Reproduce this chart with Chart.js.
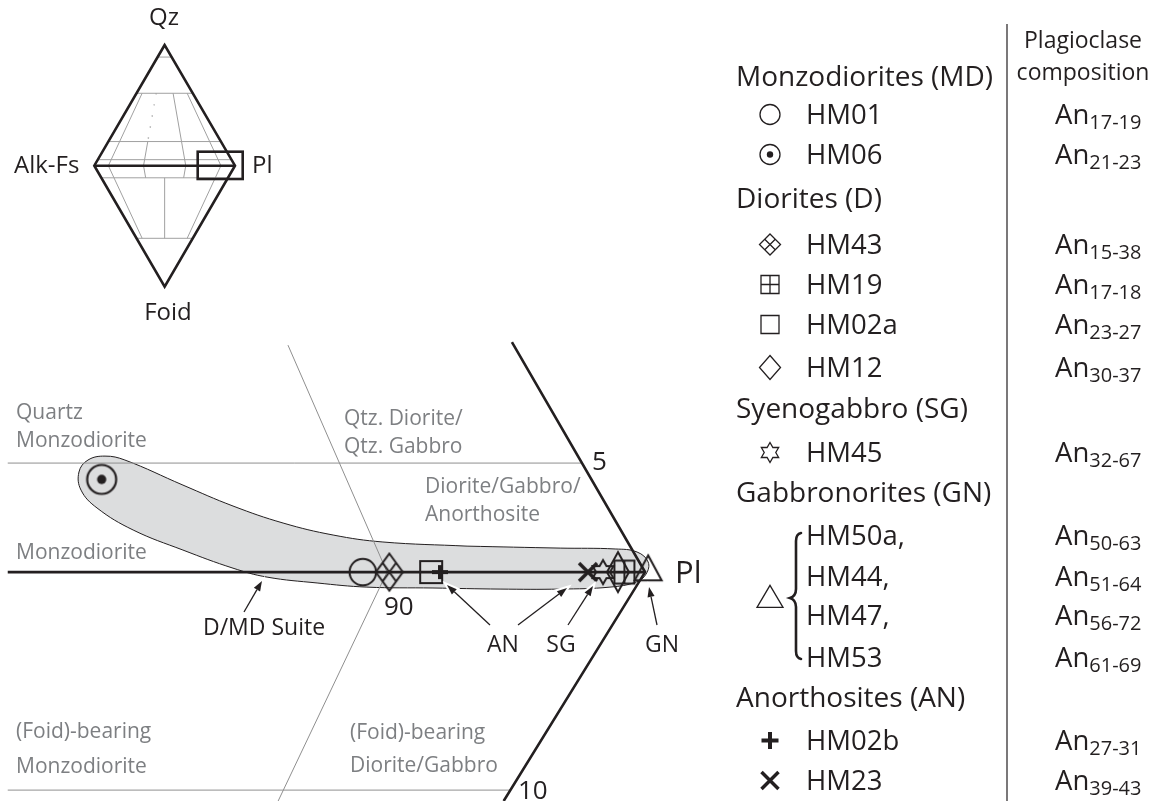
<!DOCTYPE html>
<html>
<head>
<meta charset="utf-8">
<script src="https://cdn.jsdelivr.net/npm/chart.js@4.4.1/dist/chart.umd.min.js"></script>
<style>
  html, body { margin: 0; padding: 0; background: #fff; }
  #wrap { width: 1165px; height: 801px; }
</style>
</head>
<body>
<div id="wrap"><canvas id="qapf" width="1165" height="801"></canvas></div>
<script>
// ---- plotted samples: position along the Alk-Fs – Pl join (P) and Q (+) / Foid (−) content in % ----
const markerIds = ['HM06', 'HM01', 'HM43', 'HM02a', 'HM02b', 'HM23', 'HM45', 'HM12', 'HM19', 'GN'];
const markerP   = [78.94, 89.06, 90.09, 91.71, 92.05, 97.79, 98.37, 98.95, 99.2, 100.12];
const markerQ   = [4.25, 0, 0, 0, 0, 0, 0, 0, 0, 0];

// ---- D/MD suite field outline (closed) ----
const envelopeX = [93.10, 96.71, 98.84, 99.69, 100.12, 100.04, 99.65, 98.64, 96.71, 94.38, 91.78, 89.22, 87.29,
                   85.35, 84.03, 82.09, 80.16, 78.76, 78.14, 78.06, 78.41, 79.07, 79.84, 82.09, 84.03, 85.97,
                   87.91, 89.84, 93.10];
const envelopeY = [1.19, 1.10, 1.06, 0.92, 0.46, -0.09, -0.46, -0.69, -0.78, -0.78, -0.73, -0.69, -0.50,
                   -0.23, 0.18, 1.01, 1.93, 2.94, 3.76, 4.59, 5.14, 5.32, 5.14, 3.99, 3.03, 2.25,
                   1.70, 1.38, 1.19];

// ---- field boundaries of the enlarged Pl corner ----
const q5LineX  = [75.3, 97.55];   const q5LineY  = [5, 5];
const f10LineX = [75.3, 94.78];   const f10LineY = [-10, -10];
const p90LineX = [86.16, 90, 85.78]; const p90LineY = [10.41, 0, -10.5];
const joinX    = [75.3, 100];     const joinY    = [0, 0];
const edgeX    = [94.84, 100, 94.52]; const edgeY = [10.55, 0, -10.5];

// ---- legend table ----
const groupNames  = ['Monzodiorites (MD)', 'Diorites (D)', 'Syenogabbro (SG)', 'Gabbronorites (GN)', 'Anorthosites (AN)'];
const sampleNames = ['HM01', 'HM06', 'HM43', 'HM19', 'HM02a', 'HM12', 'HM45', 'HM50a,', 'HM44,', 'HM47,', 'HM53', 'HM02b', 'HM23'];
const sampleGroup = [0, 0, 1, 1, 1, 1, 2, 3, 3, 3, 3, 4, 4];
const anFrom      = [17, 21, 15, 17, 23, 30, 32, 50, 51, 56, 61, 27, 39];
const anTo        = [19, 23, 38, 18, 27, 37, 67, 63, 64, 72, 69, 31, 43];

// ---- QAPF overview: field boundaries as [q1, r1, q2, r2] (q: Q>0 / F<0 fraction, r: P/(A+P)) ----
const insetLines = [
  [0.9, 0, 0.9, 1], [0.6, 0, 0.6, 1], [0.2, 0, 0.2, 1], [0.05, 0, 0.05, 1],
  [-0.1, 0, -0.1, 1], [-0.6, 0, -0.6, 1],
  [0.6, 0.1, 0, 0.1], [0, 0.1, -0.1, 0.1], [-0.1, 0.1, -0.6, 0.1],
  [0.2, 0.35, 0, 0.35], [0, 0.35, -0.1, 0.35],
  [0.6, 0.65, 0, 0.65], [0, 0.65, -0.1, 0.65],
  [0.6, 0.9, 0, 0.9], [0, 0.9, -0.1, 0.9], [-0.1, 0.9, -0.6, 0.9],
  [-0.1, 0.5, -0.6, 0.5]
];
const insetDotted = [[0.6, 0.35, 0.2, 0.35]];

// ---------------------------------------------------------------------------
const INK = '#231f20';
const GREY_TXT = '#7d7f82';
const GREY_LINE = '#8f8f8f';
const FONT = "'Open Sans', 'Noto Sans', sans-serif";

const markerShapes = {
  HM01: 'circle', HM06: 'circleDot', HM43: 'diamondCross', HM19: 'squareCross', HM02a: 'square',
  HM12: 'diamond', HM45: 'star', GN: 'triangle', HM02b: 'plus', HM23: 'cross'
};
// symbol sizes [w, h, lineWidth] on the plot and in the legend
const plotSizes = {
  circle: [26.5, 26.5, 2], circleDot: [29, 29, 2.2], diamondCross: [27, 37, 2], square: [22, 22, 2],
  plus: [16, 14, 4], cross: [18, 18, 3.5], star: [21, 24, 2], diamond: [22, 40, 2],
  squareCross: [20, 23, 2], triangle: [27, 25, 2]
};
const legendSizes = {
  circle: [20, 20, 1.3], circleDot: [20, 20, 1.3], diamondCross: [21, 21, 1.3], square: [18, 18, 1.3],
  plus: [17, 17, 4], cross: [17, 17, 3.5], star: [18, 20, 1.3], diamond: [21, 24, 1.3],
  squareCross: [18, 18, 1.3], triangle: [26, 22, 1.3]
};

function drawShape(ctx, kind, cx, cy, w, h, lw) {
  ctx.save();
  ctx.strokeStyle = INK; ctx.fillStyle = INK; ctx.lineWidth = lw;
  ctx.lineJoin = 'miter'; ctx.lineCap = 'butt';
  ctx.beginPath();
  if (kind === 'circle' || kind === 'circleDot') {
    ctx.arc(cx, cy, w / 2, 0, Math.PI * 2);
    ctx.stroke();
    if (kind === 'circleDot') {
      ctx.beginPath(); ctx.arc(cx, cy, w * 0.16, 0, Math.PI * 2); ctx.fill();
    }
  } else if (kind === 'diamond' || kind === 'diamondCross') {
    ctx.moveTo(cx, cy - h / 2); ctx.lineTo(cx + w / 2, cy); ctx.lineTo(cx, cy + h / 2); ctx.lineTo(cx - w / 2, cy);
    ctx.closePath(); ctx.stroke();
    if (kind === 'diamondCross') {
      ctx.beginPath();
      ctx.moveTo(cx - w / 4, cy - h / 4); ctx.lineTo(cx + w / 4, cy + h / 4);
      ctx.moveTo(cx + w / 4, cy - h / 4); ctx.lineTo(cx - w / 4, cy + h / 4);
      ctx.stroke();
    }
  } else if (kind === 'square' || kind === 'squareCross') {
    ctx.rect(cx - w / 2, cy - h / 2, w, h); ctx.stroke();
    if (kind === 'squareCross') {
      ctx.beginPath();
      ctx.moveTo(cx, cy - h / 2); ctx.lineTo(cx, cy + h / 2);
      ctx.moveTo(cx - w / 2, cy); ctx.lineTo(cx + w / 2, cy);
      ctx.stroke();
    }
  } else if (kind === 'star') {
    const R = h / 2, r = R / Math.sqrt(3);
    for (let i = 0; i < 12; i++) {
      const a = -Math.PI / 2 + i * Math.PI / 6;
      const rr = i % 2 === 0 ? R : r;
      const px = cx + rr * Math.cos(a), py = cy + rr * Math.sin(a);
      if (i === 0) ctx.moveTo(px, py); else ctx.lineTo(px, py);
    }
    ctx.closePath(); ctx.stroke();
  } else if (kind === 'triangle') {
    // anchored at the centroid
    ctx.moveTo(cx, cy - 2 * h / 3); ctx.lineTo(cx + w / 2, cy + h / 3); ctx.lineTo(cx - w / 2, cy + h / 3);
    ctx.closePath(); ctx.stroke();
  } else if (kind === 'plus') {
    ctx.moveTo(cx - w / 2, cy); ctx.lineTo(cx + w / 2, cy);
    ctx.moveTo(cx, cy - h / 2); ctx.lineTo(cx, cy + h / 2);
    ctx.stroke();
  } else if (kind === 'cross') {
    ctx.moveTo(cx - w / 2, cy - h / 2); ctx.lineTo(cx + w / 2, cy + h / 2);
    ctx.moveTo(cx + w / 2, cy - h / 2); ctx.lineTo(cx - w / 2, cy + h / 2);
    ctx.stroke();
  }
  ctx.restore();
}

function makeSymbol(kind) {
  const [w, h, lw] = plotSizes[kind];
  const even = v => 2 * Math.ceil(v / 2);
  const W = even(w + 2 * lw + 6);
  const H = even((kind === 'triangle' ? 4 * h / 3 : h) + 2 * lw + 6);
  const cv = document.createElement('canvas');
  cv.width = W; cv.height = H;
  drawShape(cv.getContext('2d'), kind, W / 2, H / 2, w, h, lw);
  return cv;
}

function text(ctx, s, x, y, size, color, align) {
  ctx.font = size + 'px ' + FONT;
  ctx.fillStyle = color;
  ctx.textAlign = align || 'left';
  ctx.textBaseline = 'alphabetic';
  ctx.fillText(s, x, y);
}

function arrow(ctx, x1, y1, x2, y2) {
  const a = Math.atan2(y2 - y1, x2 - x1), L = 10, HW = 3.6;
  const bx = x2 - L * Math.cos(a), by = y2 - L * Math.sin(a);
  const head = () => {
    ctx.beginPath();
    ctx.moveTo(x2, y2);
    ctx.lineTo(bx + HW * Math.sin(a), by - HW * Math.cos(a));
    ctx.lineTo(bx - HW * Math.sin(a), by + HW * Math.cos(a));
    ctx.closePath();
  };
  // white halo near the tip
  ctx.save();
  ctx.strokeStyle = '#fff'; ctx.lineWidth = 5; ctx.lineCap = 'round';
  ctx.beginPath(); ctx.moveTo(x2 - 22 * Math.cos(a), y2 - 22 * Math.sin(a)); ctx.lineTo(bx, by); ctx.stroke();
  head(); ctx.lineWidth = 4; ctx.stroke();
  ctx.strokeStyle = INK; ctx.fillStyle = INK; ctx.lineWidth = 1.3; ctx.lineCap = 'butt';
  ctx.beginPath(); ctx.moveTo(x1, y1); ctx.lineTo(bx, by); ctx.stroke();
  head(); ctx.fill();
  ctx.restore();
}

// QAPF overview geometry
const IN = { ax: 94.3, px: 235, cy: 165.7, hUp: 120.7, hDn: 121 };
function tern(q, r) {
  const a = Math.abs(q), hw = (IN.px - IN.ax) / 2;
  return [IN.ax + a * hw + r * (1 - a) * 2 * hw, q >= 0 ? IN.cy - a * IN.hUp : IN.cy + a * IN.hDn];
}

const overlay = {
  id: 'overlay',
  afterDatasetsDraw(chart) {
    const ctx = chart.ctx;
    ctx.save();

    // --- overview diamond ---
    ctx.strokeStyle = '#a0a0a0'; ctx.lineWidth = 1;
    insetLines.forEach(([q1, r1, q2, r2]) => {
      const p = tern(q1, r1), s = tern(q2, r2);
      ctx.beginPath(); ctx.moveTo(p[0], p[1]); ctx.lineTo(s[0], s[1]); ctx.stroke();
    });
    ctx.save();
    ctx.setLineDash([1.2, 10]); ctx.lineWidth = 1.4;
    insetDotted.forEach(([q1, r1, q2, r2]) => {
      const p = tern(q1, r1), s = tern(q2, r2);
      ctx.beginPath(); ctx.moveTo(p[0], p[1]); ctx.lineTo(s[0], s[1]); ctx.stroke();
    });
    ctx.restore();
    const Q = tern(1, 0.5), A = tern(0, 0), P = tern(0, 1), F = tern(-1, 0.5);
    ctx.strokeStyle = INK; ctx.lineWidth = 2.6; ctx.lineJoin = 'miter';
    ctx.beginPath(); ctx.moveTo(Q[0], Q[1]); ctx.lineTo(A[0], A[1]); ctx.lineTo(F[0], F[1]); ctx.lineTo(P[0], P[1]);
    ctx.closePath(); ctx.stroke();
    ctx.beginPath(); ctx.moveTo(A[0], A[1]); ctx.lineTo(P[0], P[1]); ctx.stroke();
    ctx.strokeRect(197.7, 151.7, 45, 27.3);
    text(ctx, 'Qz', 164, 25, 24, INK, 'center');
    text(ctx, 'Alk-Fs', 14, 173, 24, INK, 'left');
    text(ctx, 'Pl', 252, 173, 24, INK, 'left');
    text(ctx, 'Foid', 168, 320, 24, INK, 'center');

    // --- field names of the enlarged corner ---
    text(ctx, 'Quartz', 16, 419, 21, GREY_TXT);
    text(ctx, 'Monzodiorite', 16, 447, 21, GREY_TXT);
    text(ctx, 'Qtz. Diorite/', 344, 425, 21, GREY_TXT);
    text(ctx, 'Qtz. Gabbro', 344, 453, 21, GREY_TXT);
    text(ctx, 'Diorite/Gabbro/', 425, 493, 21, GREY_TXT);
    text(ctx, 'Anorthosite', 425, 521, 21, GREY_TXT);
    text(ctx, 'Monzodiorite', 16, 559, 21, GREY_TXT);
    text(ctx, '(Foid)-bearing', 16, 738, 21, GREY_TXT);
    text(ctx, 'Monzodiorite', 16, 773, 21, GREY_TXT);
    text(ctx, '(Foid)-bearing', 350, 739, 21, GREY_TXT);
    text(ctx, 'Diorite/Gabbro', 350, 772, 21, GREY_TXT);
    text(ctx, '5', 592, 470, 26, INK);
    text(ctx, '10', 518, 799, 26, INK);
    text(ctx, '90', 384, 615, 26, INK);
    text(ctx, 'Pl', 675, 583, 31, INK);

    // --- call-outs ---
    arrow(ctx, 244, 612, 262, 581);
    arrow(ctx, 490, 625, 447, 585);
    arrow(ctx, 518, 625, 567, 588);
    arrow(ctx, 568, 625, 593, 586);
    arrow(ctx, 657, 625, 649, 587);
    text(ctx, 'D/MD Suite', 203, 635, 23, INK);
    text(ctx, 'AN', 503, 652, 23, INK, 'center');
    text(ctx, 'SG', 561, 652, 23, INK, 'center');
    text(ctx, 'GN', 662, 652, 23, INK, 'center');

    // --- legend table ---
    ctx.strokeStyle = INK; ctx.lineWidth = 1.2;
    ctx.beginPath(); ctx.moveTo(1007, 24); ctx.lineTo(1007, 801); ctx.stroke();
    text(ctx, 'Plagioclase', 1083, 48, 23, INK, 'center');
    text(ctx, 'composition', 1083, 80, 23, INK, 'center');

    const rowBase = [86, 124, 164, 208, 254, 294, 334, 377, 418, 462, 502, 545, 586, 625, 667, 707, 750, 790];
    let row = 0, lastGroup = -1;
    const gnRows = [];
    sampleNames.forEach((name, i) => {
      if (sampleGroup[i] !== lastGroup) {
        lastGroup = sampleGroup[i];
        text(ctx, groupNames[lastGroup], 736, rowBase[row++], 28, INK);
      }
      const y = rowBase[row++];
      text(ctx, name, 806, y, 27.5, INK);
      ctx.font = '27.5px ' + FONT;
      const wAn = ctx.measureText('An').width;
      text(ctx, 'An', 1055, y, 27.5, INK);
      text(ctx, anFrom[i] + '-' + anTo[i], 1055 + wAn, y + 5, 20, INK);
      const kind = markerShapes[name];
      if (kind) {
        const [w, h, lw] = legendSizes[kind];
        drawShape(ctx, kind, 770, y - 9.5, w, h, lw);
      } else {
        gnRows.push(y);
      }
    });
    // shared symbol and brace for the gabbronorites
    const [tw, th, tlw] = legendSizes.triangle;
    const mid = (gnRows[0] + gnRows[gnRows.length - 1]) / 2 - 9;
    drawShape(ctx, 'triangle', 770, mid + 3, tw, th, tlw);
    const top = gnRows[0] - 12, bot = gnRows[gnRows.length - 1] - 9;
    ctx.strokeStyle = INK; ctx.lineWidth = 2.6; ctx.lineCap = 'round';
    ctx.beginPath();
    ctx.moveTo(801, top);
    ctx.quadraticCurveTo(796, top + 1, 796, top + 8);
    ctx.lineTo(796, mid - 8);
    ctx.quadraticCurveTo(796, mid - 1, 790, mid + 1);
    ctx.quadraticCurveTo(796, mid + 3, 796, mid + 10);
    ctx.lineTo(796, bot - 7);
    ctx.quadraticCurveTo(796, bot, 801, bot + 1);
    ctx.stroke();

    ctx.restore();
  }
};

const pts = (xs, ys) => xs.map((x, i) => ({ x, y: ys[i] }));

const boundary = (label, xs, ys, color, width) => ({
  type: 'line', label, data: pts(xs, ys), borderColor: color, borderWidth: width,
  pointRadius: 0, fill: false, tension: 0, borderJoinStyle: 'miter', order: color === INK ? 6 : 8
});

const sampleSets = markerIds.map((id, i) => ({
  type: 'scatter', label: id, data: [{ x: markerP[i], y: markerQ[i] }],
  pointStyle: makeSymbol(markerShapes[id]), pointRadius: 12, hoverRadius: 0, order: 1
}));

new Chart(document.getElementById('qapf'), {
  type: 'scatter',
  data: {
    datasets: [
      ...sampleSets,
      boundary('Alk-Fs – Pl join', joinX, joinY, INK, 2.6),
      boundary('Pl field edges', edgeX, edgeY, INK, 2.6),
      boundary('Q = 5', q5LineX, q5LineY, GREY_LINE, 1),
      boundary('F = 10', f10LineX, f10LineY, GREY_LINE, 1),
      boundary('P = 90', p90LineX, p90LineY, GREY_LINE, 1),
      {
        type: 'line', label: 'D/MD Suite', data: pts(envelopeX, envelopeY),
        borderColor: INK, borderWidth: 1, backgroundColor: '#dcddde',
        fill: 'shape', tension: 0.4, pointRadius: 0, order: 10
      }
    ]
  },
  options: {
    responsive: false,
    animation: false,
    events: [],
    layout: { padding: 0, autoPadding: false },
    plugins: { legend: { display: false }, tooltip: { enabled: false } },
    scales: {
      x: { type: 'linear', min: 75, max: 120.15, display: false },
      y: { type: 'linear', min: -10.5, max: 26.24, display: false }
    }
  },
  plugins: [overlay]
});
</script>
</body>
</html>
